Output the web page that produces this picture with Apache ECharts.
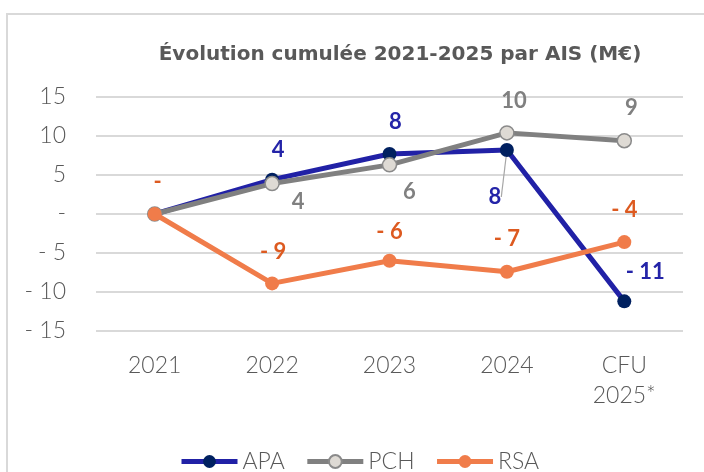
<!DOCTYPE html>
<html>
<head>
<meta charset="utf-8">
<script src="https://cdn.jsdelivr.net/npm/echarts@6/dist/echarts.min.js"></script>
<style>html,body{margin:0;padding:0;background:#fff}#c{width:704px;height:472px}</style>
</head>
<body>
<div id="c"></div>
<script>
// ---- data ----
const categories = ['2021', '2022', '2023', '2024', 'CFU\n2025*'];
const seriesNames = ['APA', 'PCH', 'RSA'];
const apaValues = [0, 4.4, 7.7, 8.2, -11.2];
const pchValues = [0, 3.9, 6.3, 10.4, 9.4];
const rsaValues = [0, -8.9, -6.0, -7.4, -3.6];
const yTicks = [-15, -10, -5, 0, 5, 10, 15];

// ---- layout / style (not data) ----
const FONT = 'Lato';
const apaLabelOffsets = [null, [6, -30], [6, -32], [-12, 47], [21, -29]];
const pchLabelOffsets = [null, [26, 18], [20, 27], [7, -32], [7, -33]];
const rsaLabelOffsets = [[3, -32], [1, -32], [0, -29], [0, -33], [0, -32]];

function fmt(v) {
  const r = Math.round(v);
  if (r === 0) return '-';
  return r < 0 ? '- ' + Math.abs(r) : String(r);
}

function buildData(values, offsets, color, leaderIdx) {
  return values.map((v, i) => {
    const o = offsets[i];
    const item = { value: v };
    if (!o) {
      item.label = { show: false };
    } else {
      item.label = {
        show: true, position: 'inside', offset: o,
        formatter: () => fmt(v),
        color: color, fontFamily: FONT, fontWeight: 'bold', fontSize: 22
      };
      if (i === leaderIdx) {
        item.labelLine = { show: true, lineStyle: { color: '#A6A6A6', width: 1.2 } };
      }
    }
    return item;
  });
}

const chart = echarts.init(document.getElementById('c'), null, { renderer: 'canvas' });
chart.setOption({
  animation: false,
  backgroundColor: '#fff',
  title: {
    text: 'Évolution cumulée 2021-2025 par AIS (M€)',
    left: 395, top: 40, textAlign: 'center',
    textStyle: { fontFamily: 'DejaVu Sans', fontWeight: 'bold', fontSize: 20, color: '#595959' }
  },
  graphic: [{
    type: 'rect', shape: { x: 7, y: 14, width: 720, height: 480 },
    style: { fill: 'none', stroke: '#D9D9D9', lineWidth: 2 }, z: -1
  }],
  grid: { left: 96, right: 21, top: 97, bottom: 141 },
  legend: {
    data: seriesNames, left: 174, top: 445,
    itemWidth: 56, itemHeight: 16, itemGap: 20,
    lineStyle: { width: 5 },
    textStyle: { fontFamily: FONT, fontWeight: 300, fontSize: 23, color: '#595959' }
  },
  xAxis: {
    type: 'category', data: categories, boundaryGap: true,
    axisLine: { show: false }, axisTick: { show: false },
    axisLabel: { fontFamily: FONT, fontWeight: 300, fontSize: 23, color: '#595959', margin: 20, lineHeight: 30 }
  },
  yAxis: {
    type: 'value', min: -15, max: 15, interval: 5,
    axisLine: { show: false }, axisTick: { show: false },
    splitLine: { lineStyle: { color: '#D9D9D9', width: 2 } },
    axisLabel: {
      fontFamily: FONT, fontWeight: 300, fontSize: 23, color: '#595959', margin: 30,
      formatter: v => yTicks.includes(v) ? fmt(v) : ''
    }
  },
  series: [
    {
      name: 'APA', type: 'line', data: buildData(apaValues, apaLabelOffsets, '#2424A8', 3),
      lineStyle: { color: '#2121A6', width: 5 },
      itemStyle: { color: '#002060', borderColor: '#002060', borderWidth: 0 },
      symbol: 'circle', symbolSize: 14, z: 2
    },
    {
      name: 'PCH', type: 'line', data: buildData(pchValues, pchLabelOffsets, '#808080', -1),
      lineStyle: { color: '#808080', width: 5 },
      itemStyle: { color: '#DEDAD4', borderColor: '#8A8A8A', borderWidth: 1.5 },
      symbol: 'circle', symbolSize: 14, z: 3
    },
    {
      name: 'RSA', type: 'line', data: buildData(rsaValues, rsaLabelOffsets, '#DD5A20', -1),
      lineStyle: { color: '#F07C4A', width: 5 },
      itemStyle: { color: '#F07C4A', borderWidth: 0 },
      symbol: 'circle', symbolSize: 14, z: 4
    }
  ]
});
</script>
</body>
</html>
